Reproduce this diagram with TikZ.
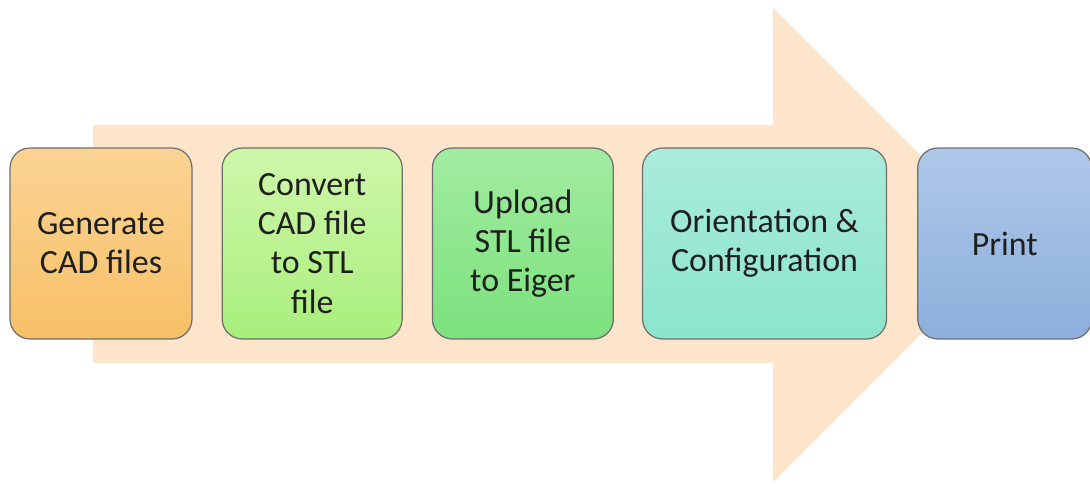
\documentclass[tikz,border=0pt]{standalone}
\usepackage{fontspec}
\setmainfont{Carlito}
\usetikzlibrary{positioning}
\definecolor{peach}{HTML}{FDE5CB}
\definecolor{edgegray}{HTML}{6E6E6E}
\definecolor{genTop}{HTML}{FBD394}
\definecolor{genBot}{HTML}{F7C067}
\definecolor{convTop}{HTML}{CFF7AB}
\definecolor{convBot}{HTML}{A8EF7C}
\definecolor{uplTop}{HTML}{A2ECA0}
\definecolor{uplBot}{HTML}{7BE17D}
\definecolor{oriTop}{HTML}{AAEBDC}
\definecolor{oriBot}{HTML}{8BE5CD}
\definecolor{prtTop}{HTML}{AEC8E9}
\definecolor{prtBot}{HTML}{8DAFDB}
\begin{document}
\begin{tikzpicture}[x=0.02cm,y=0.02cm,
    stepbox/.style={draw=edgegray, line width=0.7pt, rounded corners=0.4cm,
      minimum height=3.82cm, align=center, text=black!88,
      font=\fontsize{19.3}{22.3}\selectfont, inner sep=2pt},
    node distance=0.58cm]
      \useasboundingbox (0,0) rectangle (1090,484) ;
      % big arrow behind the steps
      \fill[peach] (93,359) -- (773,359) -- (773,476) -- (1010,239) %
        -- (773,2) -- (773,121) -- (93,121) -- cycle ;
      \node[stepbox, minimum width=3.64cm, top color=genTop, bottom color=genBot] %
        (gen) at (101,240.5) {Generate\\CAD files} ;
      \node[stepbox, minimum width=3.6cm, top color=convTop, bottom color=convBot, right=of gen] %
        (conv) {Convert\\CAD file\\to STL\\file} ;
      \node[stepbox, minimum width=3.62cm, top color=uplTop, bottom color=uplBot, right=of conv] %
        (upl) {Upload\\STL file\\to Eiger} ;
      \node[stepbox, minimum width=4.88cm, top color=oriTop, bottom color=oriBot, right=0.56cm of upl] %
        (orient) {Orientation \&\\Configuration} ;
      \node[stepbox, minimum width=3.48cm, top color=prtTop, bottom color=prtBot, right=0.6cm of orient] %
        (print) {Print} ;
    \end{tikzpicture}
\end{document}
